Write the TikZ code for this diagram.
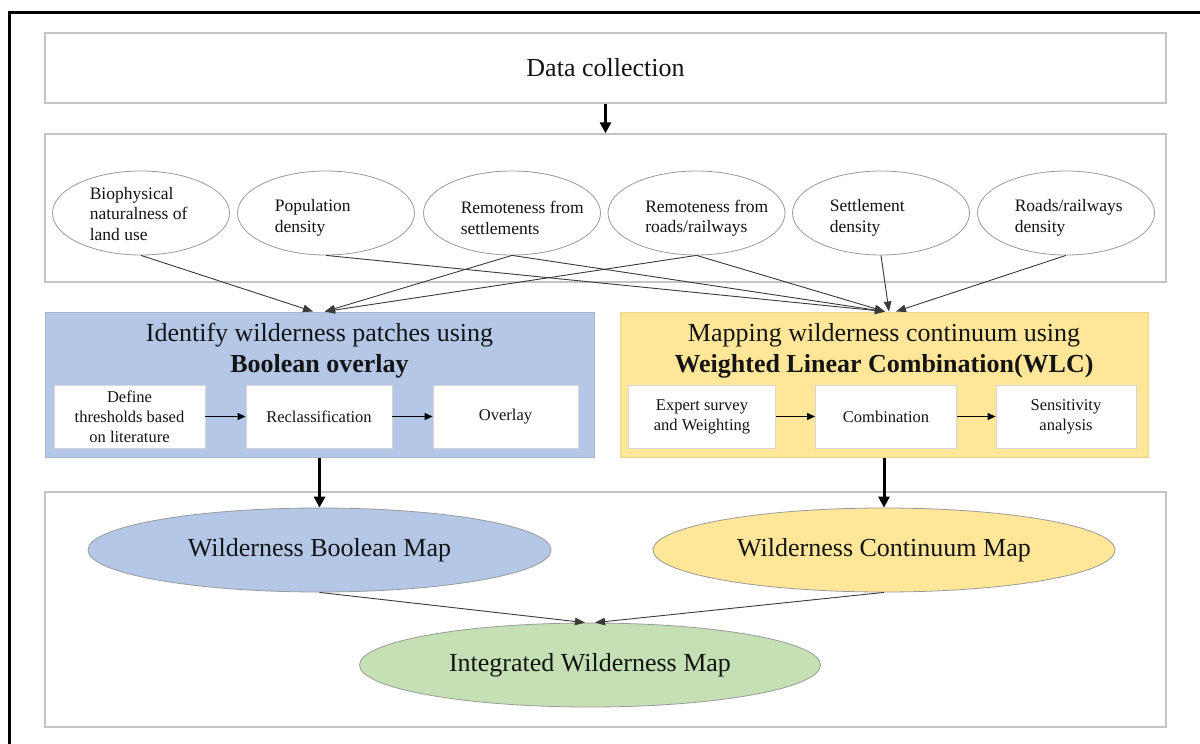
\documentclass[tikz,border=0pt]{standalone}
\usepackage{fontspec}
\setmainfont{Liberation Serif}
\usetikzlibrary{arrows.meta,shapes.geometric,calc}
\definecolor{panelgray}{HTML}{C4C4C4}
\definecolor{ellgray}{HTML}{9A9A9A}
\definecolor{bluefill}{HTML}{B4C7E7}
\definecolor{blueedge}{HTML}{A3B6D6}
\definecolor{yellowfill}{HTML}{FFE699}
\definecolor{yellowedge}{HTML}{EED58A}
\definecolor{greenfill}{HTML}{C5E0B4}
\definecolor{linegray}{HTML}{3A3A3A}
\definecolor{textcol}{HTML}{141414}
\tikzset{
  panel/.style={draw=panelgray, line width=1.4pt, fill=white, inner sep=0pt},
  colpanel/.style={line width=1pt, inner sep=0pt},
  stepbox/.style={draw=panelgray!70, line width=0.8pt, fill=white, inner sep=0pt,
    minimum height=63pt, align=center, text=textcol,
    font=\fontsize{16.5}{20}\selectfont},
  factor/.style={ellipse, draw=ellgray, line width=0.8pt, fill=white,
    minimum width=177pt, minimum height=84pt, inner sep=0pt},
  factortext/.style={anchor=west, align=left, inner sep=0pt, text=textcol,
    font=\fontsize{17.5}{20.5}\selectfont},
  mapell/.style={ellipse, draw=ellgray, line width=0.8pt,
    minimum width=462pt, minimum height=84pt, inner sep=0pt, text=textcol,
    font=\fontsize{26}{31}\selectfont},
  bigtext/.style={inner sep=0pt, align=center, text=textcol,
    font=\fontsize{26}{31}\selectfont},
  conn/.style={draw=linegray, line width=0.9pt,
    -{Triangle[length=10pt,width=7.5pt]}},
  bigarrow/.style={draw=black, line width=3pt,
    -{Triangle[length=11pt,width=11pt]}},
  smallarrow/.style={draw=black, line width=1.1pt,
    -{Triangle[length=8pt,width=7pt]}},
}
\begin{document}
\begin{tikzpicture}[x=1pt,y=-1pt]
\useasboundingbox (0,0) rectangle (1200,744);
\fill[white] (0,0) rectangle (1200,744);
% outer black frame (left and top sides visible)
\draw[line width=3pt, line join=miter] (9.5,760) -- (9.5,12) -- (1220,12);

% data collection
\node[panel, minimum width=1121pt, minimum height=70pt, bigtext] (data) at (605.5,68) {Data collection};

% factors panel
\node[panel, minimum width=1121pt, minimum height=148pt] (factors) at (605.5,208) {};

% factor ellipses
\node[factor] (e1) at (141,213) {};
\node[factor] (e2) at (326,213) {};
\node[factor] (e3) at (512,213) {};
\node[factor] (e4) at (696.5,213) {};
\node[factor] (e5) at (881,213) {};
\node[factor] (e6) at (1066,213) {};
\node[factortext] (t1) at ($(e1.west)+(37.5,1)$) {Biophysical\\naturalness of\\land use};
\node[factortext] (t2) at ($(e2.west)+(37.5,5)$) {Population\\density};
\node[factortext] (t3) at ($(e3.west)+(37.5,5)$) {Remoteness from\\settlements};
\node[factortext] (t4) at ($(e4.west)+(37.5,5)$) {Remoteness from\\roads/railways};
\node[factortext] (t5) at ($(e5.west)+(37.5,5)$) {Settlement\\density};
\node[factortext] (t6) at ($(e6.west)+(37.5,5)$) {Roads/railways\\density};

% Boolean panel
\node[colpanel, draw=blueedge, fill=bluefill, minimum width=549pt, minimum height=145pt] (bool) at (319.5,384.5) {};
\node[bigtext] (booltitle) at (319.5,351) {Identify wilderness patches using\\\textbf{Boolean overlay}};
\node[stepbox, minimum width=151pt] (b1) at (129.5,416.5) {Define\\thresholds based\\on literature};
\node[stepbox, minimum width=146pt] (b2) at (319,416.5) {Reclassification};
\node[stepbox, minimum width=145pt] (b3) at (505.5,416.5) {Overlay};
\draw[smallarrow] (b1.east) -- (b2.west);
\draw[smallarrow] (b2.east) -- (b3.west);

% WLC panel
\node[colpanel, draw=yellowedge, fill=yellowfill, minimum width=528pt, minimum height=145pt] (wlc) at (884,384.5) {};
\node[bigtext] (wlctitle) at (884,351) {Mapping wilderness continuum using\\\textbf{Weighted Linear Combination(WLC)}};
\node[stepbox, minimum width=147pt] (w1) at (702,416.5) {Expert survey\\and Weighting};
\node[stepbox, minimum width=141pt] (w2) at (886,416.5) {Combination};
\node[stepbox, minimum width=140pt] (w3) at (1066,416.5) {Sensitivity\\analysis};
\draw[smallarrow] (w1.east) -- (w2.west);
\draw[smallarrow] (w2.east) -- (w3.west);

% connector end points on panel tops
\coordinate (bt1) at ($(bool.north)+(-6.5,0)$);
\coordinate (bt2) at ($(bool.north)+(5.5,0)$);
\coordinate (yt1) at ($(wlc.north)+(1,0)$);
\coordinate (yt2) at ($(wlc.north)+(5,0)$);
\coordinate (yt3) at ($(wlc.north)+(12,0)$);

\draw[conn] (e1.south) -- (bt1);
\draw[conn] (e3.south) -- (bt2);
\draw[conn] (e4.south) -- (bt2);
\draw[conn] (e2.south) -- (yt1);
\draw[conn] (e3.south) -- (yt1);
\draw[conn] (e4.south) -- (yt1);
\draw[conn] (e5.south) -- (yt2);
\draw[conn] (e6.south) -- (yt3);

% bottom panel
\node[panel, minimum width=1121pt, minimum height=235pt] (results) at (605.5,609.5) {};
\node[mapell, fill=bluefill, minimum width=463pt] (boolmap) at (319.5,550) {Wilderness Boolean Map};
\node[mapell, fill=yellowfill] (contmap) at (884,550) {Wilderness Continuum Map};
\node[mapell, fill=greenfill, minimum width=461pt] (intmap) at (590,665) {Integrated Wilderness Map};

\coordinate (it1) at ($(intmap.north)+(-5,0)$);
\coordinate (it2) at ($(intmap.north)+(5,0)$);
\draw[conn] (boolmap.south) -- (it1);
\draw[conn] (contmap.south) -- (it2);

% thick arrows
\draw[bigarrow] (data.south) -- (factors.north);
\draw[bigarrow] (bool.south) -- (boolmap.north);
\draw[bigarrow] (wlc.south) -- (contmap.north);
\end{tikzpicture}
\end{document}
